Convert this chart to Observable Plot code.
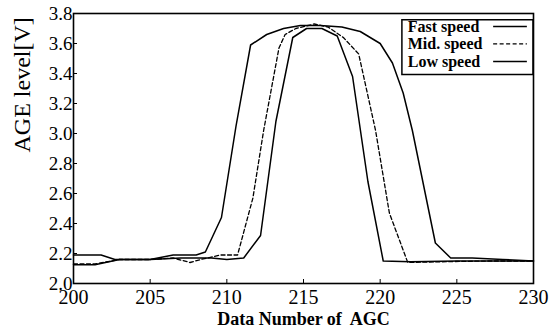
<!DOCTYPE html>
<html>
<head>
<meta charset="utf-8">
<script src="https://cdn.jsdelivr.net/npm/d3@7"></script>
<script src="https://cdn.jsdelivr.net/npm/@observablehq/plot@0.6"></script>
<style>
  html, body { margin: 0; padding: 0; background: white; }
  svg, svg text { font-family: "Liberation Serif", "Times New Roman", serif !important; }
</style>
</head>
<body>
<div id="chart"></div>
<script>
// Data
const seriesNames = ["Fast speed", "Mid. speed", "Low speed"];

const fastX = [200, 201.4, 203, 205, 207, 209, 210, 211.1, 212.2, 213.2, 214.3, 215.2, 216.2, 217.2, 218.2, 219.2, 220.2, 222, 225, 228, 230];
const fastY = [2.125, 2.125, 2.16, 2.16, 2.17, 2.17, 2.16, 2.17, 2.32, 3.08, 3.64, 3.70, 3.70, 3.65, 3.38, 2.68, 2.15, 2.145, 2.15, 2.15, 2.15];

const midX = [200, 201.4, 203, 205, 206.5, 207.6, 208.3, 209.6, 210.7, 211.7, 212.4, 213.4, 213.8, 214.5, 215.7, 216.6, 217.6, 218.6, 219.7, 220.6, 221.8, 224, 227, 230];
const midY = [2.13, 2.13, 2.16, 2.16, 2.17, 2.14, 2.16, 2.19, 2.19, 2.57, 3.02, 3.57, 3.66, 3.70, 3.73, 3.71, 3.64, 3.53, 3.02, 2.47, 2.14, 2.145, 2.15, 2.15];

const lowX = [200, 201.8, 202.7, 205, 206.5, 208, 208.6, 209.65, 210.6, 211.55, 212.6, 213.7, 214.8, 216.1, 217.5, 218.7, 220.0, 220.8, 221.5, 222.1, 223.6, 224.6, 226, 228, 230];
const lowY = [2.19, 2.19, 2.16, 2.16, 2.19, 2.19, 2.21, 2.44, 3.05, 3.59, 3.66, 3.70, 3.72, 3.72, 3.71, 3.68, 3.60, 3.47, 3.27, 3.02, 2.27, 2.17, 2.17, 2.16, 2.15];

const xTicks = [200, 205, 210, 215, 220, 225, 230];
const yTicks = [2.0, 2.2, 2.4, 2.6, 2.8, 3.0, 3.2, 3.4, 3.6, 3.8];
const xLabel = "Data Number of  AGC";
const yLabel = "AGE level[V]";

const toRows = (xs, ys, name) => xs.map((x, i) => ({x, y: ys[i], series: name}));
const fast = toRows(fastX, fastY, seriesNames[0]);
const mid = toRows(midX, midY, seriesNames[1]);
const low = toRows(lowX, lowY, seriesNames[2]);

// legend layout (in data space of the chart)
const legendBox = [{x1: 221.45, x2: 230, y1: 3.39, y2: 3.755}];
const legendRowsY = [3.713, 3.597, 3.48];
const legendRows = seriesNames.map((s, i) => ({series: s, y: legendRowsY[i], dash: i === 1}));

const font = "'Liberation Serif', 'Times New Roman', serif";

const chart = Plot.plot({
  width: 555,
  height: 330,
  marginLeft: 73,
  marginRight: 22,
  marginTop: 13,
  marginBottom: 47,
  style: {fontFamily: font, background: "white", color: "black"},
  x: {domain: [200, 230]},
  y: {domain: [2.0, 3.8]},
  marks: [
    Plot.axisX({ticks: xTicks, tickSize: -4, tickPadding: 10, fontSize: 20, label: null, tickFormat: d => String(d)}),
    Plot.axisY({ticks: yTicks, tickSize: -4, tickPadding: 5, fontSize: 19, label: null, tickFormat: d3.format(".1f")}),
    Plot.line(low, {x: "x", y: "y", stroke: "black", strokeWidth: 1.5}),
    Plot.line(mid, {x: "x", y: "y", stroke: "black", strokeWidth: 1.3, strokeDasharray: "4,2.5"}),
    Plot.line(fast, {x: "x", y: "y", stroke: "black", strokeWidth: 1.5}),
    Plot.rect(legendBox, {x1: "x1", x2: "x2", y1: "y1", y2: "y2", fill: "white", stroke: "black", strokeWidth: 1.5}),
    Plot.text(legendRows, {x: 221.8, y: "y", text: "series", textAnchor: "start", fontSize: 16, fontWeight: "bold", fill: "black"}),
    Plot.ruleY(legendRows.filter(d => !d.dash), {y: "y", x1: 227.4, x2: 229.6, stroke: "black", strokeWidth: 1.5}),
    Plot.ruleY(legendRows.filter(d => d.dash), {y: "y", x1: 227.4, x2: 229.6, stroke: "black", strokeWidth: 1.3, strokeDasharray: "4,2.5"}),
    Plot.frame({stroke: "black", strokeWidth: 1.6}),
    Plot.text([yLabel], {frameAnchor: "left", rotate: -90, dx: -51, dy: 4, fontSize: 24, fill: "black"}),
    Plot.text([xLabel], {frameAnchor: "bottom", lineAnchor: "middle", dy: 36, fontSize: 18, fontWeight: "bold", fill: "black"})
  ]
});
document.getElementById("chart").appendChild(chart);
</script>
</body>
</html>
